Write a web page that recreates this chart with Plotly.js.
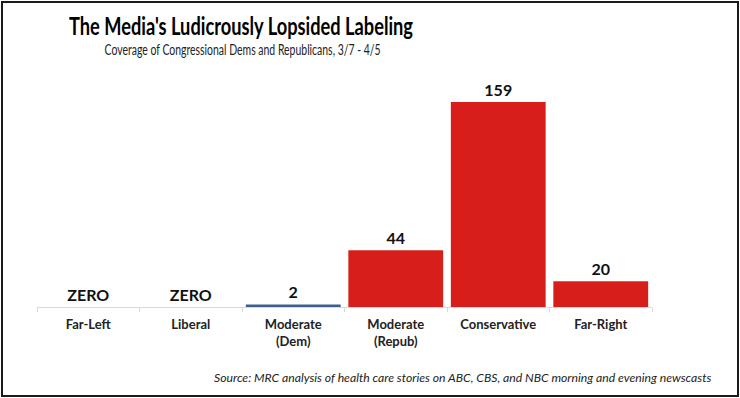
<!DOCTYPE html>
<html><head><meta charset="utf-8">
<script src="https://cdn.plot.ly/plotly-3.0.1.min.js"></script>
<style>
html,body{margin:0;padding:0;background:#fff;}
#wrap{position:relative;width:740px;height:398px;}
#chart{width:740px;height:398px;}
#frame{position:absolute;left:1px;top:1px;width:734px;height:392px;border:2px solid #1a1a1a;pointer-events:none;}
</style></head>
<body>
<div id="wrap"><div id="chart"></div><div id="frame"></div></div>
<script>
const categories = ["Far-Left", "Liberal", "Moderate (Dem)", "Moderate (Repub)", "Conservative", "Far-Right"];
const tickLabels = ["Far-Left", "Liberal", "Moderate<br>(Dem)", "Moderate<br>(Repub)", "Conservative", "Far-Right"];
const values = [0, 0, 2, 44, 159, 20];
const valueLabels = ["ZERO", "ZERO", "2", "44", "159", "20"];
const barColors = ["#d81e1b", "#d81e1b", "#3d5f8f", "#d81e1b", "#d81e1b", "#d81e1b"];

const FONT = "Lato, 'Open Sans', sans-serif";

const trace = {
  type: "bar",
  x: categories,
  y: values,
  marker: {color: barColors},
  text: valueLabels.map(t => "<b>" + t + "</b>"),
  textposition: "outside",
  textfont: {family: FONT, size: 16, color: "#111"},
  cliponaxis: false,
  hoverinfo: "skip"
};

const layout = {
  width: 740, height: 398,
  margin: {l: 37, r: 88, t: 75, b: 91},
  paper_bgcolor: "#fff", plot_bgcolor: "#fff",
  bargap: 0.075,
  showlegend: false,
  font: {family: FONT, color: "#111"},
  title: {
    text: "The Media's Ludicrously Lopsided Labeling",
    font: {family: FONT, size: 25, weight: "bold", color: "#000"},
    x: 241/740, xanchor: "center", y: 1 - 26/398, yanchor: "middle"
  },
  xaxis: {
    type: "category",
    tickmode: "array", tickvals: categories, ticktext: tickLabels.map(t => "<b>" + t.replace("<br>", "</b><br><b>") + "</b>"),
    tickfont: {family: FONT, size: 13, color: "#222"},
    ticklabelstandoff: 5,
    showline: true, linecolor: "#d9d9d9", linewidth: 1,
    ticks: "outside", tickson: "boundaries", ticklen: 4, tickcolor: "#d9d9d9",
    showgrid: false, zeroline: false, fixedrange: true
  },
  yaxis: {
    range: [0, 180], visible: false, showgrid: false, zeroline: false, fixedrange: true
  },
  annotations: [
    {text: "Coverage of Congressional Dems and Republicans, 3/7 - 4/5", xref: "paper", yref: "paper",
     x: (242-37)/615, y: (307-50)/232, xanchor: "center", yanchor: "middle", showarrow: false,
     font: {family: FONT, size: 14.5, color: "#222"}},
    {text: "<i>Source: MRC analysis of health care stories on ABC, CBS, and NBC morning and evening newscasts</i>", xref: "paper", yref: "paper",
     x: (714-37)/615, y: (307-377)/232, xanchor: "right", yanchor: "middle", showarrow: false,
     font: {family: FONT, size: 12.2, color: "#222"}}
  ]
};

Plotly.newPlot("chart", [trace], layout, {displayModeBar: false, staticPlot: true}).then(gd => {
  const t = gd.querySelector(".gtitle");
  if (t) { t.setAttribute("textLength", "344"); t.setAttribute("lengthAdjust", "spacingAndGlyphs"); }
  const anns = gd.querySelectorAll(".annotation-text");
  if (anns[0]) { anns[0].setAttribute("textLength", "276"); anns[0].setAttribute("lengthAdjust", "spacingAndGlyphs"); }
});
</script>
</body></html>
